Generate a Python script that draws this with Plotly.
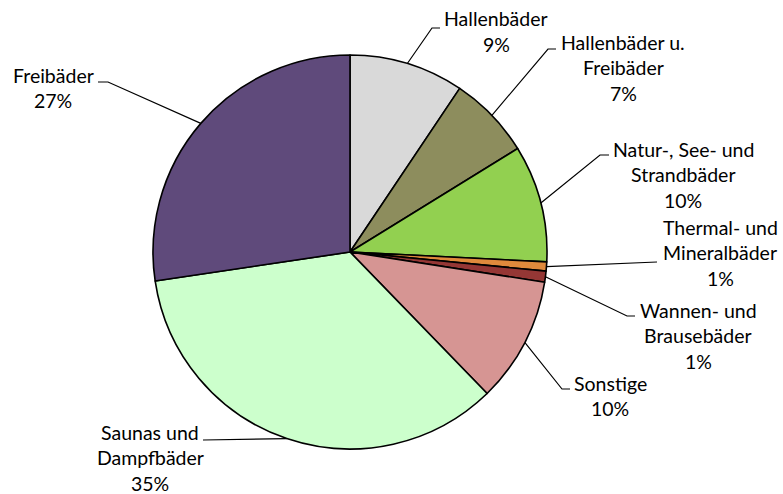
import numpy as np
import plotly.graph_objects as go

# Bäder-Kategorien und Anteile (in %)
categories = [
    "Hallenbäder",
    "Hallenbäder u.<br>Freibäder",
    "Natur-, See- und<br>Strandbäder",
    "Thermal- und<br>Mineralbäder",
    "Wannen- und<br>Brausebäder",
    "Sonstige",
    "Saunas und<br>Dampfbäder",
    "Freibäder",
]
shares = [9.4, 6.8, 9.6, 0.75, 0.9, 10.3, 34.9, 27.35]
colors = ["#D9D9D9", "#8D8D5D", "#92D050", "#E08A3C", "#953735",
          "#D69593", "#CCFFCC", "#5F4A7B"]

W, H = 783, 494
CX, CY, R = 350, 252, 197          # pie centre and radius in pixels

# label placement (pixels): text centre x, first baseline y, elbow point, tail x
label_pos = [
    (496, 26, (432, 28), 440),
    (623, 49, (548, 49), 556),
    (683, 156, (600, 155), 609),
    (720, 234, (657, 262), 657),
    (698, 317, (627, 316), 635),
    (610, 390, (562, 389), 570),
    (150, 439, (203, 440), 203),
    (53, 82, (108, 82), 98),
]
LINE_GAP = 25.5
FONT = dict(family="Lato, 'Open Sans', sans-serif", size=19.5, color="#000000")


def px(x):
    return x / W


def py(y):
    return 1 - y / H


fig = go.Figure(go.Pie(
    labels=[c.replace("<br>", " ") for c in categories],
    values=shares,
    sort=False,
    direction="clockwise",
    rotation=0,
    marker=dict(colors=colors, line=dict(color="#000000", width=1.6)),
    textinfo="none",
    hoverinfo="label+percent",
    showlegend=False,
    domain=dict(x=[px(CX - R), px(CX + R)], y=[py(CY + R), py(CY - R)]),
))

total = sum(shares)
cum = np.cumsum([0] + shares[:-1])
shapes, annotations = [], []
for i, (cat, v) in enumerate(zip(categories, shares)):
    mid = (cum[i] + v / 2) / total * 2 * np.pi
    sx, sy = CX + R * np.sin(mid), CY - R * np.cos(mid)
    tx, ty, (ex, ey), tail = label_pos[i]
    path = f"M {px(sx)},{py(sy)} L {px(ex)},{py(ey)} L {px(tail)},{py(ey)}"
    shapes.append(dict(type="path", xref="paper", yref="paper", path=path,
                       line=dict(color="#000000", width=1.2)))
    lines = cat.split("<br>") + [f"{round(v / total * 100)}%"]
    for k, line in enumerate(lines):
        base = ty + k * LINE_GAP
        annotations.append(dict(
            x=px(tx), y=py(base - 7), xref="paper", yref="paper",
            text=line, showarrow=False, xanchor="center", yanchor="middle",
            font=FONT,
        ))

fig.update_layout(
    width=W, height=H,
    margin=dict(l=0, r=0, t=0, b=0),
    paper_bgcolor="#FFFFFF",
    plot_bgcolor="#FFFFFF",
    shapes=shapes,
    annotations=annotations,
)

fig.write_html("out.html")
